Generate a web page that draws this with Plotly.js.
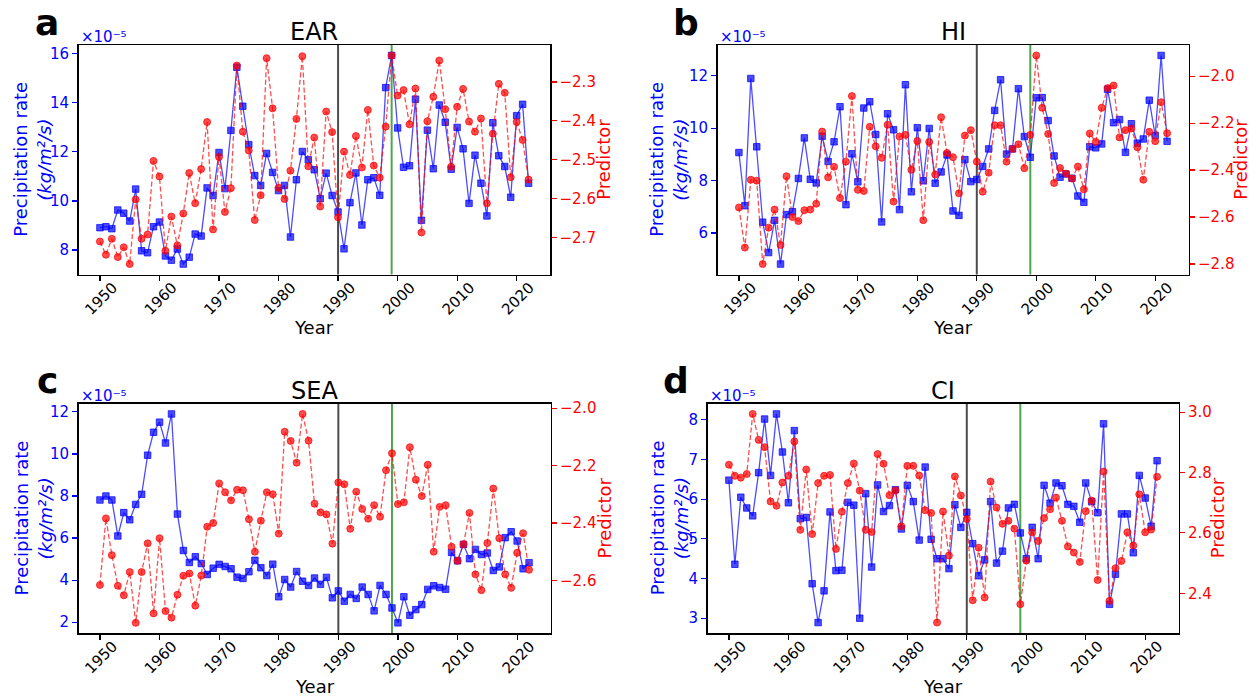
<!DOCTYPE html>
<html><head><meta charset="utf-8">
<script src="https://cdn.plot.ly/plotly-3.0.1.min.js"></script>
<style>html,body{margin:0;padding:0;background:#fff}#chart{width:1256px;height:698px}</style>
</head><body><div id="chart"></div>
<script>
// ---------------- data ----------------
const years = [1950,1951,1952,1953,1954,1955,1956,1957,1958,1959,1960,1961,1962,1963,1964,1965,1966,1967,1968,1969,
 1970,1971,1972,1973,1974,1975,1976,1977,1978,1979,1980,1981,1982,1983,1984,1985,1986,1987,1988,1989,
 1990,1991,1992,1993,1994,1995,1996,1997,1998,1999,2000,2001,2002,2003,2004,2005,2006,2007,2008,2009,
 2010,2011,2012,2013,2014,2015,2016,2017,2018,2019,2020,2021,2022];

// precipitation rate in units of 1e-5 kg/m2/s
const earPrecip = [8.91,8.95,8.87,9.63,9.50,9.18,10.48,7.97,7.89,8.95,9.14,7.76,7.59,8.04,7.43,7.71,8.65,8.57,10.53,10.22,
 11.97,10.50,12.87,15.44,13.85,12.29,11.03,10.63,11.93,11.16,10.42,10.63,8.53,10.86,12.01,11.67,11.27,10.09,11.13,10.22,
 9.55,8.05,9.93,11.14,9.02,10.86,10.94,10.23,14.61,15.92,12.97,11.37,11.43,14.14,9.21,12.88,11.31,13.90,13.20,11.29,
 12.99,12.12,9.90,11.86,10.72,9.39,13.18,11.84,11.40,10.15,13.47,13.93,10.72];
const earPred = [-2.710,-2.744,-2.703,-2.750,-2.725,-2.768,-2.602,-2.703,-2.692,-2.503,-2.543,-2.734,-2.646,-2.720,-2.638,-2.534,-2.612,-2.524,-2.403,-2.679,
 -2.493,-2.634,-2.573,-2.258,-2.428,-2.476,-2.655,-2.591,-2.239,-2.368,-2.572,-2.601,-2.528,-2.395,-2.234,-2.517,-2.443,-2.620,-2.376,-2.429,
 -2.648,-2.479,-2.539,-2.439,-2.520,-2.372,-2.515,-2.546,-2.415,-2.232,-2.335,-2.321,-2.409,-2.317,-2.687,-2.401,-2.338,-2.245,-2.370,-2.518,
 -2.364,-2.318,-2.402,-2.428,-2.394,-2.612,-2.433,-2.305,-2.328,-2.545,-2.403,-2.449,-2.551];

const hiPrecip = [9.07,7.04,11.90,9.29,6.41,5.25,6.48,4.81,6.70,6.81,8.08,9.63,8.05,7.91,9.69,8.73,9.48,10.82,7.08,9.02,
 7.95,10.77,11.01,9.76,6.42,10.55,9.94,6.89,11.66,7.57,10.02,7.99,9.99,7.90,8.33,8.98,6.84,6.67,8.80,7.96,
 8.04,8.54,9.21,10.68,11.85,9.01,9.21,11.51,9.68,8.89,11.16,11.17,10.29,8.94,8.13,8.25,8.09,7.41,7.17,9.29,
 9.25,9.40,11.49,10.21,10.33,9.08,10.17,9.43,9.59,11.07,9.72,12.78,9.50];
const hiPred = [-2.559,-2.730,-2.441,-2.445,-2.800,-2.645,-2.568,-2.719,-2.426,-2.600,-2.617,-2.571,-2.568,-2.543,-2.236,-2.431,-2.386,-2.519,-2.364,-2.085,
 -2.484,-2.489,-2.216,-2.299,-2.348,-2.207,-2.534,-2.257,-2.250,-2.399,-2.276,-2.613,-2.280,-2.419,-2.175,-2.327,-2.345,-2.499,-2.253,-2.230,
 -2.364,-2.492,-2.411,-2.209,-2.209,-2.364,-2.310,-2.290,-2.392,-2.250,-1.912,-2.135,-2.246,-2.455,-2.391,-2.415,-2.436,-2.385,-2.482,-2.244,
 -2.280,-2.135,-2.051,-2.040,-2.261,-2.230,-2.223,-2.303,-2.441,-2.237,-2.277,-2.111,-2.243];

const seaPrecip = [7.81,8.00,7.81,6.10,7.21,6.87,7.60,8.08,9.94,11.03,11.51,10.52,11.90,7.14,5.41,4.84,5.11,4.79,4.27,4.57,
 4.75,4.65,4.54,4.14,4.08,4.40,4.94,4.59,4.22,4.76,3.21,4.03,3.67,4.41,3.95,3.75,4.10,3.80,4.13,3.16,
 3.49,3.00,3.32,3.13,3.67,3.32,2.54,3.75,3.32,2.68,1.97,3.21,2.33,2.60,2.84,3.56,3.73,3.65,3.57,5.32,
 4.92,5.70,5.02,5.46,5.22,5.29,4.46,4.63,6.02,6.30,5.86,4.54,4.83];
const seaPred = [-2.616,-2.384,-2.512,-2.619,-2.652,-2.571,-2.748,-2.571,-2.471,-2.715,-2.453,-2.707,-2.730,-2.650,-2.584,-2.576,-2.688,-2.583,-2.413,-2.400,
 -2.262,-2.293,-2.321,-2.284,-2.286,-2.387,-2.500,-2.392,-2.293,-2.300,-2.437,-2.082,-2.114,-2.190,-2.020,-2.113,-2.333,-2.363,-2.370,-2.472,
 -2.259,-2.265,-2.420,-2.291,-2.351,-2.385,-2.338,-2.378,-2.216,-2.157,-2.334,-2.328,-2.136,-2.249,-2.306,-2.197,-2.500,-2.344,-2.338,-2.483,
 -2.532,-2.474,-2.365,-2.579,-2.634,-2.470,-2.280,-2.453,-2.579,-2.626,-2.504,-2.436,-2.563];

const ciPrecip = [6.48,4.36,6.05,5.78,5.58,6.67,8.02,6.60,8.15,7.19,5.91,7.73,5.51,5.54,3.87,2.89,3.69,5.68,4.20,4.21,
 5.92,5.85,3.00,6.14,4.29,6.36,5.69,5.84,6.24,5.25,6.35,5.94,4.97,6.81,4.99,4.50,4.50,4.25,5.86,5.29,
 5.67,4.88,4.07,4.47,5.94,4.39,4.69,5.78,5.87,5.15,4.50,5.29,4.50,6.35,5.90,6.41,6.34,5.87,5.82,5.42,
 6.41,5.94,5.66,7.90,3.35,4.11,5.63,5.63,4.65,6.60,6.03,5.32,6.97];
const ciPred = [2.826,2.789,2.783,2.795,2.994,2.908,2.884,2.704,2.690,2.767,2.789,2.903,2.610,2.810,2.596,2.765,2.789,2.792,2.547,2.670,
 2.765,2.830,2.740,2.610,2.603,2.861,2.829,2.725,2.741,2.622,2.822,2.822,2.790,2.675,2.666,2.303,2.671,2.525,2.787,2.724,
 2.646,2.377,2.551,2.386,2.770,2.684,2.630,2.640,2.614,2.364,2.508,2.601,2.573,2.649,2.678,2.717,2.640,2.555,2.535,2.504,
 2.672,2.707,2.444,2.803,2.375,2.483,2.507,2.602,2.558,2.728,2.602,2.611,2.786];

const xTickVals = [1950,1960,1970,1980,1990,2000,2010,2020];
const eventYears = [1990, 1999];
const eventColors = ['rgba(0,0,0,0.7)', 'rgba(0,128,0,0.7)'];

const earLeftTicks = [8,10,12,14,16];      const earRightTicks = [-2.7,-2.6,-2.5,-2.4,-2.3];
const hiLeftTicks  = [6,8,10,12];          const hiRightTicks  = [-2.8,-2.6,-2.4,-2.2,-2.0];
const seaLeftTicks = [2,4,6,8,10,12];      const seaRightTicks = [-2.6,-2.4,-2.2,-2.0];
const ciLeftTicks  = [3,4,5,6,7,8];        const ciRightTicks  = [2.4,2.6,2.8,3.0];

const panelLetters = ['a','b','c','d'];
const panelTitles = ['EAR','HI','SEA','CI'];

// ---------------- layout helpers ----------------
const W = 1256, H = 698;
const FONT = 'DejaVu Sans, sans-serif';
const BLUE = '#0000ff', RED = '#ff0000';

const panels = [
  {precip: earPrecip, pred: earPred, lt: earLeftTicks, rt: earRightTicks, box: [78.5, 550, 45, 274.5],   ylab: 33,  plab: 604},
  {precip: hiPrecip,  pred: hiPred,  lt: hiLeftTicks,  rt: hiRightTicks,  box: [717.5, 1188.5, 45, 274.5], ylab: 669, plab: 1241},
  {precip: seaPrecip, pred: seaPred, lt: seaLeftTicks, rt: seaRightTicks, box: [78.5, 550.5, 403.5, 633.3], ylab: 33,  plab: 604},
  {precip: ciPrecip,  pred: ciPred,  lt: ciLeftTicks,  rt: ciRightTicks,  box: [707.5, 1178.5, 403.5, 633], ylab: 669, plab: 1217}
];

function padRange(arr, frac) {
  const mn = Math.min(...arr), mx = Math.max(...arr), d = (mx - mn) * frac;
  return [mn - d, mx + d];
}
const px = v => v / W;
const py = v => 1 - v / H;

const data = [];
const layout = {
  width: W, height: H,
  margin: {l: 0, r: 0, t: 0, b: 0},
  paper_bgcolor: '#fff', plot_bgcolor: 'rgba(0,0,0,0)',
  showlegend: false,
  font: {family: FONT, size: 15, color: '#000'},
  annotations: [], shapes: []
};

const xr = padRange(years, 0.05);

panels.forEach((p, k) => {
  const xn = k === 0 ? '' : String(k + 1);
  const yl = String(2 * k + 1), yr = String(2 * k + 2);
  const ylName = yl === '1' ? '' : yl;
  const [l, r, t, b] = p.box;
  const xId = 'x' + xn, ylId = 'y' + ylName, yrId = 'y' + yr;

  layout['xaxis' + xn] = {
    domain: [px(l), px(r)], anchor: ylId, range: xr,
    tickvals: xTickVals, tickangle: -45, ticklabelshift: 13, ticklabelstandoff: -8,
    ticks: 'outside', ticklen: 5, tickwidth: 1.2, tickcolor: '#000',
    showline: true, linecolor: '#000', linewidth: 1.5, mirror: true,
    showgrid: false, zeroline: false,
    tickfont: {family: FONT, size: 15, color: '#000'}
  };
  layout['yaxis' + ylName] = {
    domain: [py(b), py(t)], anchor: xId, range: padRange(p.precip, 0.05),
    tickvals: p.lt, ticks: 'outside', ticklen: 5, tickwidth: 1.2, tickcolor: BLUE,
    showline: true, linecolor: '#000', linewidth: 1.5,
    showgrid: false, zeroline: false,
    tickfont: {family: FONT, size: 15, color: BLUE}
  };
  layout['yaxis' + yr] = {
    overlaying: ylId, side: 'right', anchor: xId, range: padRange(p.pred, 0.05),
    tickvals: p.rt, tickformat: '.1f', ticks: 'outside', ticklen: 5, tickwidth: 1.2, tickcolor: RED,
    showline: true, linecolor: '#000', linewidth: 1.5,
    showgrid: false, zeroline: false,
    tickfont: {family: FONT, size: 15, color: RED}
  };

  data.push({
    x: years, y: p.precip, xaxis: xId, yaxis: ylId, type: 'scatter', mode: 'lines+markers',
    line: {color: 'rgba(0,0,255,0.7)', width: 1.3},
    marker: {symbol: 'square', size: 6.5, color: 'rgba(0,0,255,0.7)', line: {color: 'rgba(0,0,255,0.7)', width: 1}},
    hoverinfo: 'x+y'
  });
  data.push({
    x: years, y: p.pred, xaxis: xId, yaxis: yrId, type: 'scatter', mode: 'lines+markers',
    line: {color: 'rgba(255,0,0,0.7)', width: 1.3, dash: '5px,2.5px'},
    marker: {symbol: 'circle', size: 7, color: 'rgba(255,0,0,0.7)', line: {color: 'rgba(255,0,0,0.7)', width: 1}},
    hoverinfo: 'x+y'
  });

  eventYears.forEach((ey, j) => {
    layout.shapes.push({
      type: 'line', xref: xId, yref: ylId + ' domain', x0: ey, x1: ey, y0: 0, y1: 1,
      line: {color: eventColors[j], width: 2}, layer: 'below'
    });
  });

  const cx = (l + r) / 2, cy = (t + b) / 2;
  const ann = layout.annotations;
  const common = {xref: 'paper', yref: 'paper', showarrow: false};
  ann.push({...common, text: panelLetters[k], x: px(l - 31.5), y: py(t - 23),
    xanchor: 'center', yanchor: 'middle', font: {family: FONT, size: 36, color: '#000', weight: 'bold'}});
  ann.push({...common, text: panelTitles[k], x: px(cx), y: py(t - 13),
    xanchor: 'center', yanchor: 'middle', font: {family: FONT, size: 24, color: '#000'}});
  ann.push({...common, text: '×10⁻⁵', x: px(l), y: py(t - 8),
    xanchor: 'left', yanchor: 'middle', font: {family: FONT, size: 15, color: BLUE}});
  ann.push({...common, text: 'Year', x: px(cx), y: py(b + 53),
    xanchor: 'center', yanchor: 'middle', font: {family: FONT, size: 18, color: '#000'}});
  ann.push({...common, text: 'Precipitation rate', x: px(p.ylab - 12), y: py(cy),
    xanchor: 'center', yanchor: 'middle', textangle: -90, font: {family: FONT, size: 18, color: BLUE}});
  ann.push({...common, text: '(kg/m²/s)', x: px(p.ylab + 12), y: py(cy),
    xanchor: 'center', yanchor: 'middle', textangle: -90, font: {family: FONT, size: 18, color: BLUE, style: 'italic'}});
  ann.push({...common, text: 'Predictor', x: px(p.plab), y: py(cy),
    xanchor: 'center', yanchor: 'middle', textangle: -90, font: {family: FONT, size: 18, color: RED}});
});

Plotly.newPlot('chart', data, layout, {displayModeBar: false, staticPlot: true});
</script>
</body></html>
